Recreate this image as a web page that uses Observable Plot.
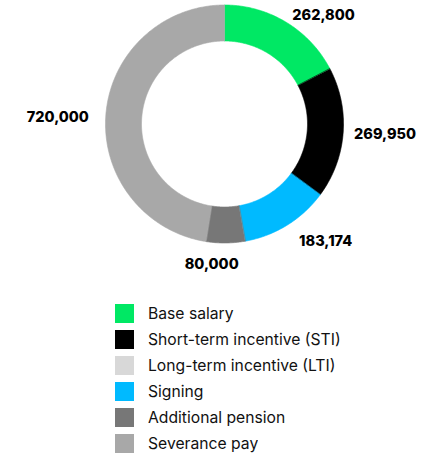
<!DOCTYPE html>
<html>
<head>
<meta charset="utf-8">
<script src="https://cdn.jsdelivr.net/npm/d3@7"></script>
<script src="https://cdn.jsdelivr.net/npm/@observablehq/plot@0.6"></script>
<style>
  html, body { margin: 0; padding: 0; background: #fff; }
  body { width: 436px; height: 454px; overflow: hidden; font-family: Inter, "Noto Sans", sans-serif; }
  #legend { margin-left: 115px; margin-top: 15px; }
  #legend .lg-swatches { font-family: Inter, sans-serif; font-size: 15.7px; color: #111; }
  #legend .lg-swatches > div { display: flex; align-items: center; height: 26px; margin: 0; padding: 0; }
  #legend .lg-swatches svg { margin-right: 14px !important; }
</style>
</head>
<body>
<div id="chart"></div>
<div id="legend"></div>
<script>
const categories = ["Base salary", "Short-term incentive (STI)", "Long-term incentive (LTI)", "Signing", "Additional pension", "Severance pay"];
const values = [262800, 269950, 0, 183174, 80000, 720000];
const labels = ["262,800", "269,950", "", "183,174", "80,000", "720,000"];
const colors = ["#00e864", "#000000", "#d8d8d8", "#00baff", "#777777", "#a8a8a8"];

const W = 436, H = 285;
const cx = 224, cy = 123.5;
const rOuter = 119, rInner = 83;

const total = d3.sum(values);
let acc = 0;
const slices = categories.map((c, i) => {
  const a0 = acc / total * 2 * Math.PI;
  acc += values[i];
  const a1 = acc / total * 2 * Math.PI;
  return {key: c, value: values[i], label: labels[i], a0, a1, mid: (a0 + a1) / 2};
}).filter(d => d.value > 0);

// polygon outline for each slice (arc geometry, not data)
const pts = [];
for (const s of slices) {
  const n = Math.max(2, Math.ceil((s.a1 - s.a0) / 0.01));
  for (let k = 0; k <= n; k++) {
    const a = s.a0 + (s.a1 - s.a0) * k / n;
    pts.push({key: s.key, x: rOuter * Math.sin(a), y: rOuter * Math.cos(a)});
  }
  for (let k = n; k >= 0; k--) {
    const a = s.a0 + (s.a1 - s.a0) * k / n;
    pts.push({key: s.key, x: rInner * Math.sin(a), y: rInner * Math.cos(a)});
  }
}

const labelData = slices.map(s => {
  const R = 127 + 13 * Math.max(0, -Math.cos(s.mid));
  const sn = Math.sin(s.mid);
  return {
    text: s.label,
    x: R * sn,
    y: R * Math.cos(s.mid),
    anchor: sn > 0.25 ? "start" : sn < -0.25 ? "end" : "middle"
  };
});

const textOpts = {x: "x", y: "y", text: "text", fontSize: 14.5, fontWeight: 800, fill: "#000", fontFamily: "Inter, sans-serif"};

const chart = Plot.plot({
  width: W,
  height: H,
  margin: 0,
  x: {domain: [-cx, W - cx], range: [0, W], axis: null},
  y: {domain: [-(H - cy), cy], range: [H, 0], axis: null},
  color: {domain: categories, range: colors},
  style: {background: "white", overflow: "visible"},
  marks: [
    Plot.line(pts, {x: "x", y: "y", z: "key", fill: "key", stroke: "key", strokeWidth: 0.6, curve: "linear-closed"}),
    Plot.text(labelData.filter(d => d.anchor === "start"), {...textOpts, textAnchor: "start", dx: 2}),
    Plot.text(labelData.filter(d => d.anchor === "end"), {...textOpts, textAnchor: "end", dx: -9, dy: 3}),
    Plot.text(labelData.filter(d => d.anchor === "middle"), {...textOpts, textAnchor: "middle", dx: -14})
  ]
});
document.getElementById("chart").appendChild(chart);

const legend = Plot.legend({
  color: {type: "categorical", domain: categories, range: colors},
  legend: "swatches",
  columns: 1,
  swatchSize: 19,
  className: "lg"
});
document.getElementById("legend").appendChild(legend);
</script>
</body>
</html>
